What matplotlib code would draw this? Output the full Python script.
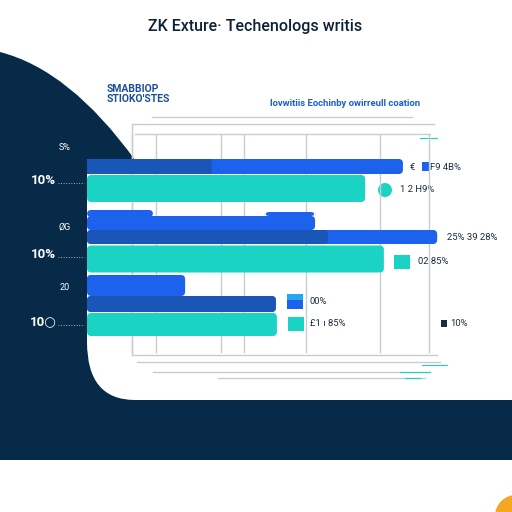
import numpy as np
import matplotlib
matplotlib.use('Agg')
import matplotlib.pyplot as plt
from matplotlib.patches import PathPatch, FancyBboxPatch, Circle
from matplotlib.path import Path

plt.rcParams['font.family'] = ['Roboto', 'DejaVu Sans']

# 数据
title = 'ZK Exture· Techenologs writis'
left_heading = 'SMABBIOP\nSTIOKO\'STES'
right_heading = 'lovwitiis Eochinby owirreull coation'
row_labels_small = ['S%', 'ØG', '20']
row_labels_big = ['10%', '10%', '10○']

blue_vals = [89.5, 64.6, 27.8]          # 上层亮蓝条
blue_dark_part = [35.3, 0, 0]           # 亮蓝条左边的深色部分
mid_vals = [0, 99.2, 53.5]              # 中层深蓝条
mid_dark_part = [0, 68.3, 53.5]
teal_vals = [78.8, 84.1, 53.8]          # 青色条
grid_at = [12.7, 19.5, 38.0, 44.5, 62.0, 83.0, 96.9]

navy = '#062a48'
blue = '#1c62ec'
blue_dk = '#1a55b8'
teal = '#1ad3c4'
grey = '#c8ccd0'
fam = ['Roboto', 'DejaVu Sans']

# 像素 -> 数值 的换算 (条形从 x=87 像素开始)
x0_px, px_per_unit = 87, 3.53

fig = plt.figure(figsize=(5.12, 5.12), dpi=100)
bg = fig.add_axes([0, 0, 1, 1])
bg.set_xlim(0, 512)
bg.set_ylim(512, 0)
bg.axis('off')

# 深蓝背景形状
verts = [(0, 52), (70, 70), (135, 160), (135, 166), (87, 166), (87, 342),
         (87, 400), (135, 400), (512, 400), (512, 460), (0, 460), (0, 52)]
codes = [Path.MOVETO, Path.CURVE3, Path.CURVE3, Path.LINETO, Path.LINETO,
         Path.LINETO, Path.CURVE3, Path.CURVE3, Path.LINETO, Path.LINETO,
         Path.LINETO, Path.CLOSEPOLY]
bg.add_patch(PathPatch(Path(verts, codes), fc=navy, ec='none', zorder=1))
bg.add_patch(Circle((516, 516), 21, fc='#f5a623', ec='none', zorder=1))

# 上下的灰色框线
for y, a, b in [(117, 152, 412), (124, 133, 434), (134, 135, 430),
                (355, 132, 437), (362, 137, 440), (372, 153, 430), (378, 218, 425)]:
    bg.plot([a, b], [y, y], color=grey, lw=1.0, zorder=2)
bg.plot([132, 132], [124, 355], color=grey, lw=1.0, zorder=2)
for y, a, b in [(138, 420, 437), (365, 422, 447), (372, 400, 430), (378, 405, 420)]:
    bg.plot([a, b], [y, y], color=teal, lw=0.8, zorder=2)

# 文字
bg.text(255, 27, title, ha='center', va='center', fontsize=11.5,
        family=fam, fontweight='medium', color='#0d2238', zorder=5)
bg.text(107, 94, left_heading, ha='left', va='center', fontsize=7.5,
        family=fam, fontweight='bold', color='#1b4f9c',
        linespacing=1.1, zorder=5)
bg.text(345, 103, right_heading, ha='center', va='center', fontsize=6.8,
        family=fam, fontweight='bold', color='#1a5fd0', zorder=5)

row_small_y = [147, 227, 288]
row_big_y = [180, 254, 322]
for lab, y in zip(row_labels_small, row_small_y):
    bg.text(65, y, lab, ha='center', va='center', fontsize=6.5,
            family=fam, color='white', zorder=5)
for lab, y in zip(row_labels_big, row_big_y):
    bg.text(43, y, lab, ha='center', va='center', fontsize=9.5,
            family=fam, fontweight='bold', color='white', zorder=5)
    bg.plot([58, 84], [y + 3, y + 3], color='#9fb3c6', lw=0.7, ls=':', zorder=5)

# 右侧的数值标签
lab_kw = dict(ha='left', va='center', fontsize=6.8, family=fam,
              color='#1d2b3a', zorder=5)
bg.text(410, 167, '€', **lab_kw)
bg.add_patch(plt.Rectangle((422, 162), 7, 9, fc=blue, zorder=5))
bg.text(430, 167, 'F9 4B%', **lab_kw)
bg.add_patch(Circle((385, 190), 7, fc=teal, zorder=5))
bg.text(400, 190, '1 2 H9%', **lab_kw)
bg.text(447, 238, '25% 39 28%', **lab_kw)
bg.add_patch(plt.Rectangle((394, 255), 16, 14, fc=teal, zorder=5))
bg.text(418, 262, '02 85%', **lab_kw)
bg.add_patch(plt.Rectangle((287, 294), 16, 6, fc='#25a8f0', zorder=5))
bg.add_patch(plt.Rectangle((287, 300), 16, 9, fc=blue, zorder=5))
bg.text(309, 302, '00%', **lab_kw)
bg.add_patch(plt.Rectangle((288, 317), 16, 14, fc=teal, zorder=5))
bg.text(310, 324, '£1 ı 85%', **lab_kw)
bg.add_patch(plt.Rectangle((441, 320), 6, 7, fc='#1d2b3a', zorder=5))
bg.text(450, 324, '10%', **lab_kw)

# 条形图坐标轴：x 为数值，y 为像素位置
ax = fig.add_axes([0, 0, 1, 1], zorder=3)
ax.patch.set_alpha(0)
ax.set_xlim(-x0_px / px_per_unit, (512 - x0_px) / px_per_unit)
ax.set_ylim(512, 0)
ax.axis('off')

for g in grid_at:
    ax.plot([g, g], [135, 352], color=grey, lw=1.0, zorder=1)


def rounded(bars, color, r=1.2):
    for rect in bars:
        x, y = rect.get_x(), rect.get_y()
        w, h = rect.get_width(), rect.get_height()
        rect.set_visible(False)
        if w <= 0:
            continue
        p = FancyBboxPatch((x, y), w, h, boxstyle='round,pad=0,rounding_size=%.2f' % r,
                           mutation_aspect=px_per_unit, fc=color, ec='none', zorder=3)
        ax.add_patch(p)


blue_y = [166.5, 223, 285.5]
blue_h = [15, 14, 21]
mid_y = [0, 237, 304]
mid_h = [0, 14, 16]
teal_y = [188.5, 259, 324.5]
teal_h = [27, 27, 23]

rounded(ax.barh(blue_y, blue_vals, height=blue_h), blue)
rounded(ax.barh(blue_y, blue_dark_part, height=blue_h), blue_dk, r=0.01)
rounded(ax.barh(mid_y, mid_vals, height=mid_h), blue)
rounded(ax.barh(mid_y, mid_dark_part, height=mid_h), blue_dk)
rounded(ax.barh(teal_y, teal_vals, height=teal_h), teal)
# 第二、三行蓝条上面的小台阶
rounded(ax.barh([213.5, 214], [18.7, 14.2], left=[0, 50.4], height=[7, 4]), blue)
rounded(ax.barh([280], [11.6], height=10), blue)

fig.savefig('out.png', dpi=100, facecolor='white')
